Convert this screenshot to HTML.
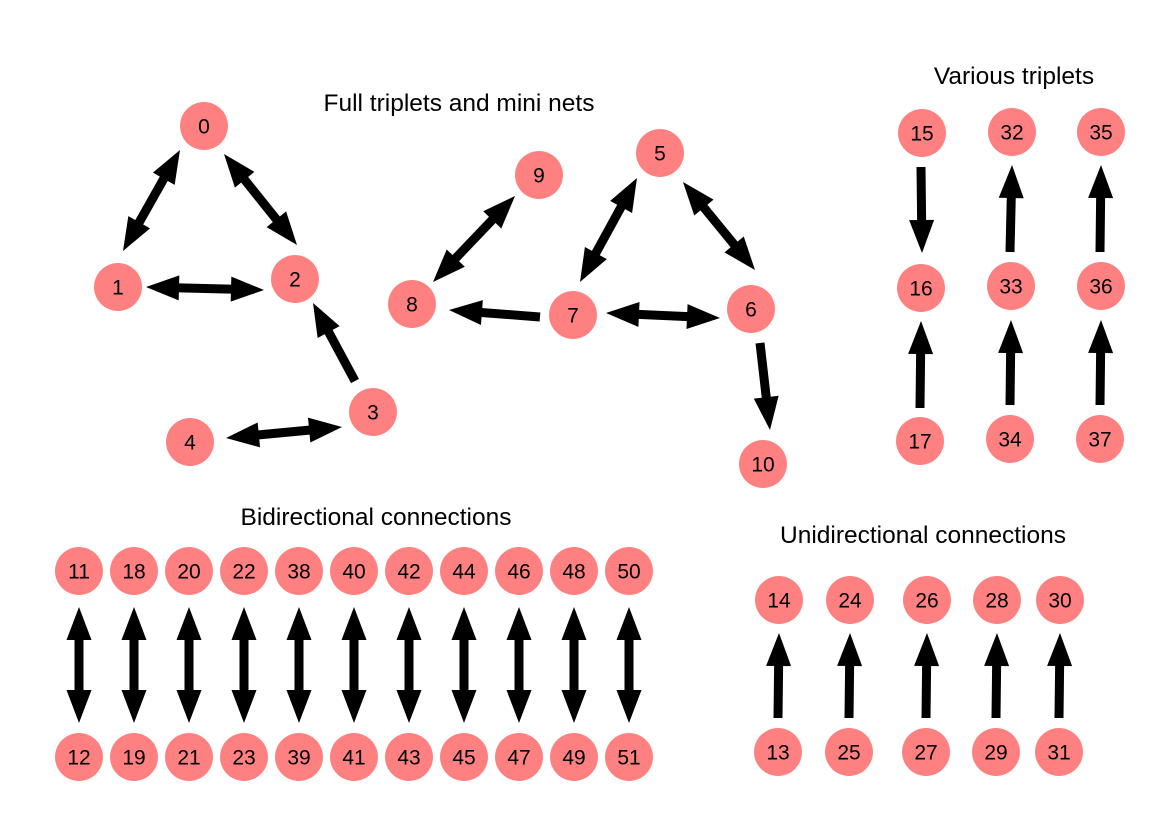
<!DOCTYPE html>
<html><head><meta charset="utf-8"><style>
html,body{margin:0;padding:0;background:#fff;}
svg text{font-family:"Liberation Sans",sans-serif;}
</style></head><body>
<svg id="s" width="1169" height="826" viewBox="0 0 1169 826" xmlns="http://www.w3.org/2000/svg">
<rect width="1169" height="826" fill="#fff"/>
<g font-size="24.5" text-anchor="middle" fill="#000">
<text x="459" y="111">Full triplets and mini nets</text>
<text x="1014" y="84">Various triplets</text>
<text x="376" y="525">Bidirectional connections</text>
<text x="923" y="543">Unidirectional connections</text>
</g>
<g id="arrows"></g>
<g id="nodes"></g>
</svg>
<script>
var NS="http://www.w3.org/2000/svg";
var nodes=[[0,204,126],[1,118,287],[2,295,279],[3,373,412],[4,190,442],[9,539,175],[5,660,153],[8,412,304],[7,573,315],[6,751,309],[10,763,464],
[15,922,133],[32,1012,132],[35,1101,132],[16,921,288],[33,1011,286],[36,1101,286],[17,920,441],[34,1010,439],[37,1100,439]];
var tx=[79,134,189,244,299,354,409,464,519,574,629],tl=[11,18,20,22,38,40,42,44,46,48,50],bl=[12,19,21,23,39,41,43,45,47,49,51];
for(var i=0;i<11;i++){nodes.push([tl[i],tx[i],571]);nodes.push([bl[i],tx[i],757]);}
var ux=[779,850,927,997,1060],ut=[14,24,26,28,30],ub=[13,25,27,29,31];
for(var i=0;i<5;i++){nodes.push([ut[i],ux[i],600]);nodes.push([ub[i],ux[i]-1,752]);}
var ng=document.getElementById('nodes');
nodes.forEach(function(n){
 var c=document.createElementNS(NS,'circle');c.setAttribute('cx',n[1]);c.setAttribute('cy',n[2]);c.setAttribute('r',24);c.setAttribute('fill','#ff8080');ng.appendChild(c);
 var t=document.createElementNS(NS,'text');t.setAttribute('x',n[1]);t.setAttribute('y',n[2]+7.5);t.setAttribute('font-size','21');t.setAttribute('text-anchor','middle');t.textContent=n[0];ng.appendChild(t);
});
var arr=[[180,150,123,251,1],[224,154,297,245,1],[146,287,264,290,1],[355,381,313,303,0],[226,438,342,427,1],
[433,282,515,196,1],[637,178,580,282,1],[683,182,755,270,1],[540,317,449,310,0],[606,313,720,318,1],[760,343,770,430,0],
[921,167,922,253,0],[920,408,921,321,0],[1010,252,1012,165,0],[1100,252,1101,165,0],[1010,405,1011,320,0],[1100,405,1101,320,0]];
for(var i=0;i<11;i++)arr.push([tx[i],607,tx[i],723,1]);
for(var i=0;i<5;i++)arr.push([ux[i]-1,718,ux[i],633,0]);
var ag=document.getElementById('arrows');
var HL=33,HW=12.5,LW=9;
function head(tx_,ty,ux_,uy){var bx=tx_-ux_*HL,by=ty-uy*HL,px=-uy,py=ux_;
 var p=document.createElementNS(NS,'polygon');
 p.setAttribute('points',tx_+','+ty+' '+(bx+px*HW)+','+(by+py*HW)+' '+(bx-px*HW)+','+(by-py*HW));p.setAttribute('fill','#000');ag.appendChild(p);}
arr.forEach(function(a){
 var dx=a[2]-a[0],dy=a[3]-a[1],L=Math.sqrt(dx*dx+dy*dy),ux_=dx/L,uy=dy/L;
 var sx=a[0],sy=a[1];
 if(a[4]){sx+=ux_*(HL-4);sy+=uy*(HL-4);head(a[0],a[1],-ux_,-uy);}
 var ex=a[2]-ux_*(HL-4),ey=a[3]-uy*(HL-4);
 var l=document.createElementNS(NS,'line');l.setAttribute('x1',sx);l.setAttribute('y1',sy);l.setAttribute('x2',ex);l.setAttribute('y2',ey);
 l.setAttribute('stroke','#000');l.setAttribute('stroke-width',LW);ag.appendChild(l);
 head(a[2],a[3],ux_,uy);
});
</script>
</body></html>
